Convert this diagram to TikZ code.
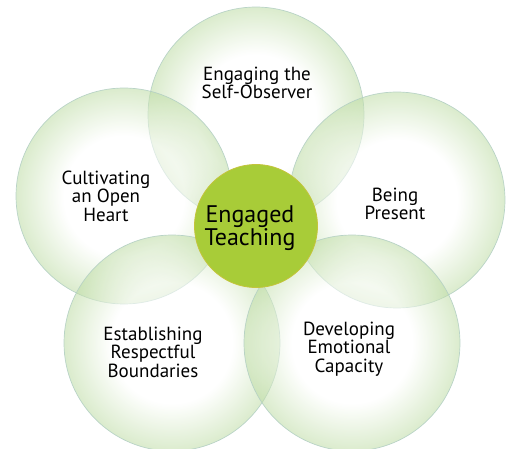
\documentclass[tikz,border=0pt]{standalone}
\usepackage{fontspec}
\setmainfont{PT Sans}
\usepackage{tikz}
\pgfdeclareradialshading{petalshade}{\pgfpoint{0bp}{0bp}}{rgb(0bp)=(1,1,1); rgb(14bp)=(1,1,1); rgb(25bp)=(0.74,0.86,0.64); rgb(50bp)=(0.74,0.86,0.64)}
\definecolor{petalline}{RGB}{180,208,196}
\definecolor{hubgreen}{RGB}{168,204,56}
\definecolor{hubline}{RGB}{196,196,60}

\begin{document}
\begin{tikzpicture}[x=1pt,y=-1pt]
\tikzstyle{petal}=[circle,minimum size=216pt,inner sep=0pt,shading=petalshade,fill opacity=0.55,draw=petalline,draw opacity=0.9,line width=0.7pt]
\tikzstyle{hub}=[circle,minimum size=123pt,inner sep=0pt,fill=hubgreen,draw=hubline,line width=0.8pt]
\tikzstyle{caption}=[align=center,font=\fontsize{19}{18.5}\selectfont,inner sep=0pt]
\useasboundingbox (0,0) rectangle (509,449);
\foreach \name/\point in {
	observer/{256,115},
	heart/{124,196},
	present/{397,200},
	boundaries/{172,343},
	capacity/{352,343}}
	\node[petal] (\name) at (\point) {};
\node[hub] (hub) at (256,226) {};
\node[caption,font=\fontsize{24}{21.5}\selectfont] (hubtext) at (250,228) {Engaged\\Teaching};
\node[caption] (observertext) at (257,83) {Engaging the\\Self-Observer};
\node[caption] (hearttext) at (106,196) {Cultivating\\an Open\\Heart};
\node[caption] (presenttext) at (395,204) {Being\\Present};
\node[caption] (boundariestext) at (153,352) {Establishing\\Respectful\\Boundaries};
\node[caption] (capacitytext) at (349,349) {Developing\\Emotional\\Capacity};
\end{tikzpicture}
\end{document}
